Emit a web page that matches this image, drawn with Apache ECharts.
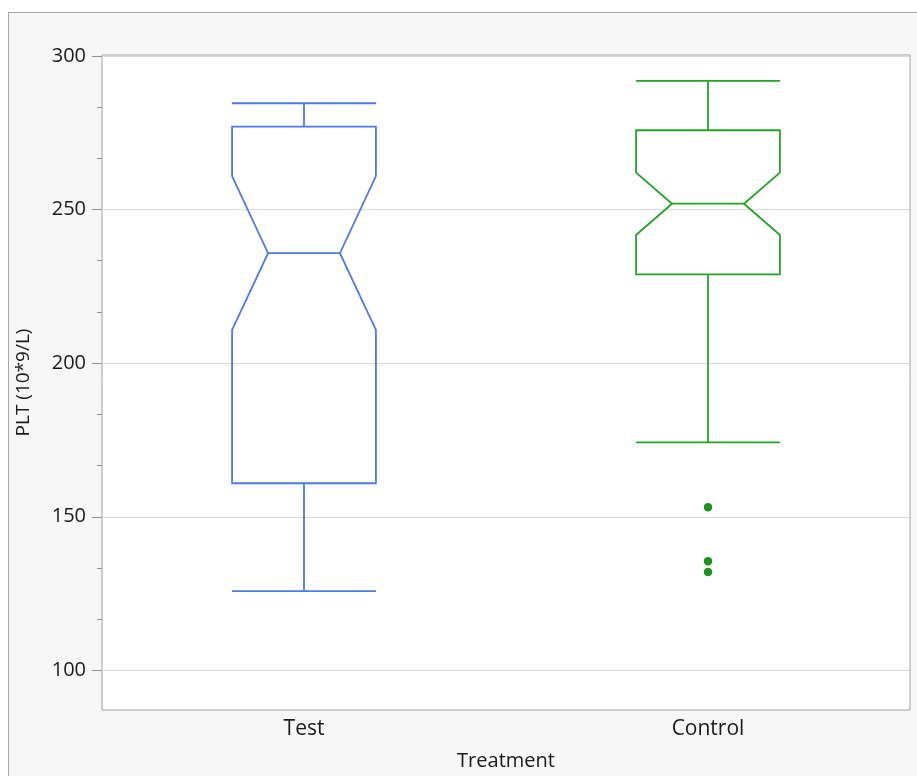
<!DOCTYPE html>
<html>
<head>
<meta charset="utf-8">
<script src="https://cdn.jsdelivr.net/npm/echarts@6/dist/echarts.min.js"></script>
<style>
  html, body { margin: 0; padding: 0; background: #ffffff; }
  #frame { position: absolute; left: 8px; top: 12px; width: 930px; height: 800px; background: #f7f7f7; border: 1px solid #a8a8a8; }
  #chart { position: absolute; left: 0; top: 0; width: 917px; height: 776px; }
</style>
</head>
<body>
<div id="frame"></div>
<div id="chart"></div>
<script>
const categories = ['Test', 'Control'];
const lowWhisker = [125.8, 174.2];
const q1 = [160.9, 228.9];
const notchLow = [210.8, 241.7];
const median = [235.8, 251.9];
const notchHigh = [260.9, 262.0];
const q3 = [277.0, 275.8];
const highWhisker = [284.6, 291.9];
const outlierCategory = ['Control', 'Control', 'Control'];
const outlierValues = [153.1, 135.5, 132.0];
const yTickValues = [100, 150, 200, 250, 300];
const yMin = 87.1, yMax = 300.3;
const colors = ['#4a7be6', '#22a322'];

// minor ticks: two between each pair of major ticks
const minorTicks = [];
for (let i = 0; i < yTickValues.length - 1; i++) {
  const a = yTickValues[i], b = yTickValues[i + 1];
  minorTicks.push(a + (b - a) / 3, a + 2 * (b - a) / 3);
}

const boxData = categories.map((c, i) => [i, lowWhisker[i], q1[i], notchLow[i], median[i], notchHigh[i], q3[i], highWhisker[i]]);
const outlierData = outlierCategory.map((c, i) => [c, outlierValues[i]]);

const font = '"Open Sans", "Noto Sans", sans-serif';
const chart = echarts.init(document.getElementById('chart'), null, { renderer: 'canvas' });

function renderBox(params, api) {
  const idx = api.value(0);
  const color = colors[params.dataIndex];
  const cx = api.coord([idx, api.value(4)])[0];
  const half = api.size([1, 0])[0] * 0.178;
  const inset = half * 0.5;
  const y = k => api.coord([idx, api.value(k)])[1];
  const yLow = y(1), yQ1 = y(2), yNL = y(3), yMed = y(4), yNH = y(5), yQ3 = y(6), yHigh = y(7);
  const L = cx - half, R = cx + half;
  const style = { stroke: color, lineWidth: 1.8, fill: null };
  return {
    type: 'group',
    children: [
      { type: 'polygon', shape: { points: [
          [L, yQ1], [L, yNL], [L + inset, yMed], [L, yNH], [L, yQ3],
          [R, yQ3], [R, yNH], [R - inset, yMed], [R, yNL], [R, yQ1]
        ] }, style: style },
      { type: 'line', shape: { x1: L + inset, y1: yMed, x2: R - inset, y2: yMed }, style: style },
      { type: 'line', shape: { x1: cx, y1: yQ3, x2: cx, y2: yHigh }, style: style },
      { type: 'line', shape: { x1: L, y1: yHigh, x2: R, y2: yHigh }, style: style },
      { type: 'line', shape: { x1: cx, y1: yQ1, x2: cx, y2: yLow }, style: style },
      { type: 'line', shape: { x1: L, y1: yLow, x2: R, y2: yLow }, style: style }
    ]
  };
}

chart.setOption({
  animation: false,
  backgroundColor: 'transparent',
  grid: {
    left: 102, top: 55, right: 7, bottom: 66,
    show: true, backgroundColor: '#ffffff', borderColor: '#a0a0a0', borderWidth: 1
  },
  xAxis: {
    type: 'category',
    data: categories,
    name: 'Treatment',
    nameLocation: 'middle',
    nameGap: 41,
    nameTextStyle: { fontFamily: font, fontSize: 20, color: '#1a1a1a' },
    axisLine: { show: false },
    axisTick: { show: false },
    axisLabel: { fontFamily: font, fontSize: 21, color: '#1a1a1a', margin: 9 },
    splitLine: { show: false }
  },
  yAxis: [{
    type: 'value',
    min: yMin, max: yMax,
    name: 'PLT (10*9/L)',
    nameLocation: 'middle',
    nameGap: 69,
    nameTextStyle: { fontFamily: font, fontSize: 19, color: '#1a1a1a' },
    axisLine: { show: false },
    axisTick: { show: true, length: 10, customValues: yTickValues, lineStyle: { color: '#909090', width: 1 } },
    axisLabel: { customValues: yTickValues, fontFamily: font, fontSize: 20, color: '#1a1a1a', margin: 16 },
    splitLine: { show: true, lineStyle: { color: '#d9d9d9', width: 1 } }
  }, {
    type: 'value',
    min: yMin, max: yMax,
    position: 'left',
    axisLine: { show: false },
    axisTick: { show: true, length: 5, customValues: minorTicks, lineStyle: { color: '#909090', width: 1 } },
    axisLabel: { show: false },
    splitLine: { show: false }
  }],
  series: [{
    type: 'custom',
    renderItem: renderBox,
    data: boxData,
    encode: { x: 0, y: [1, 2, 3, 4, 5, 6, 7] },
    z: 3
  }, {
    type: 'scatter',
    data: outlierData,
    symbol: 'circle',
    symbolSize: 8.5,
    itemStyle: { color: '#1c951c', opacity: 1 },
    z: 4
  }]
});
</script>
</body>
</html>
